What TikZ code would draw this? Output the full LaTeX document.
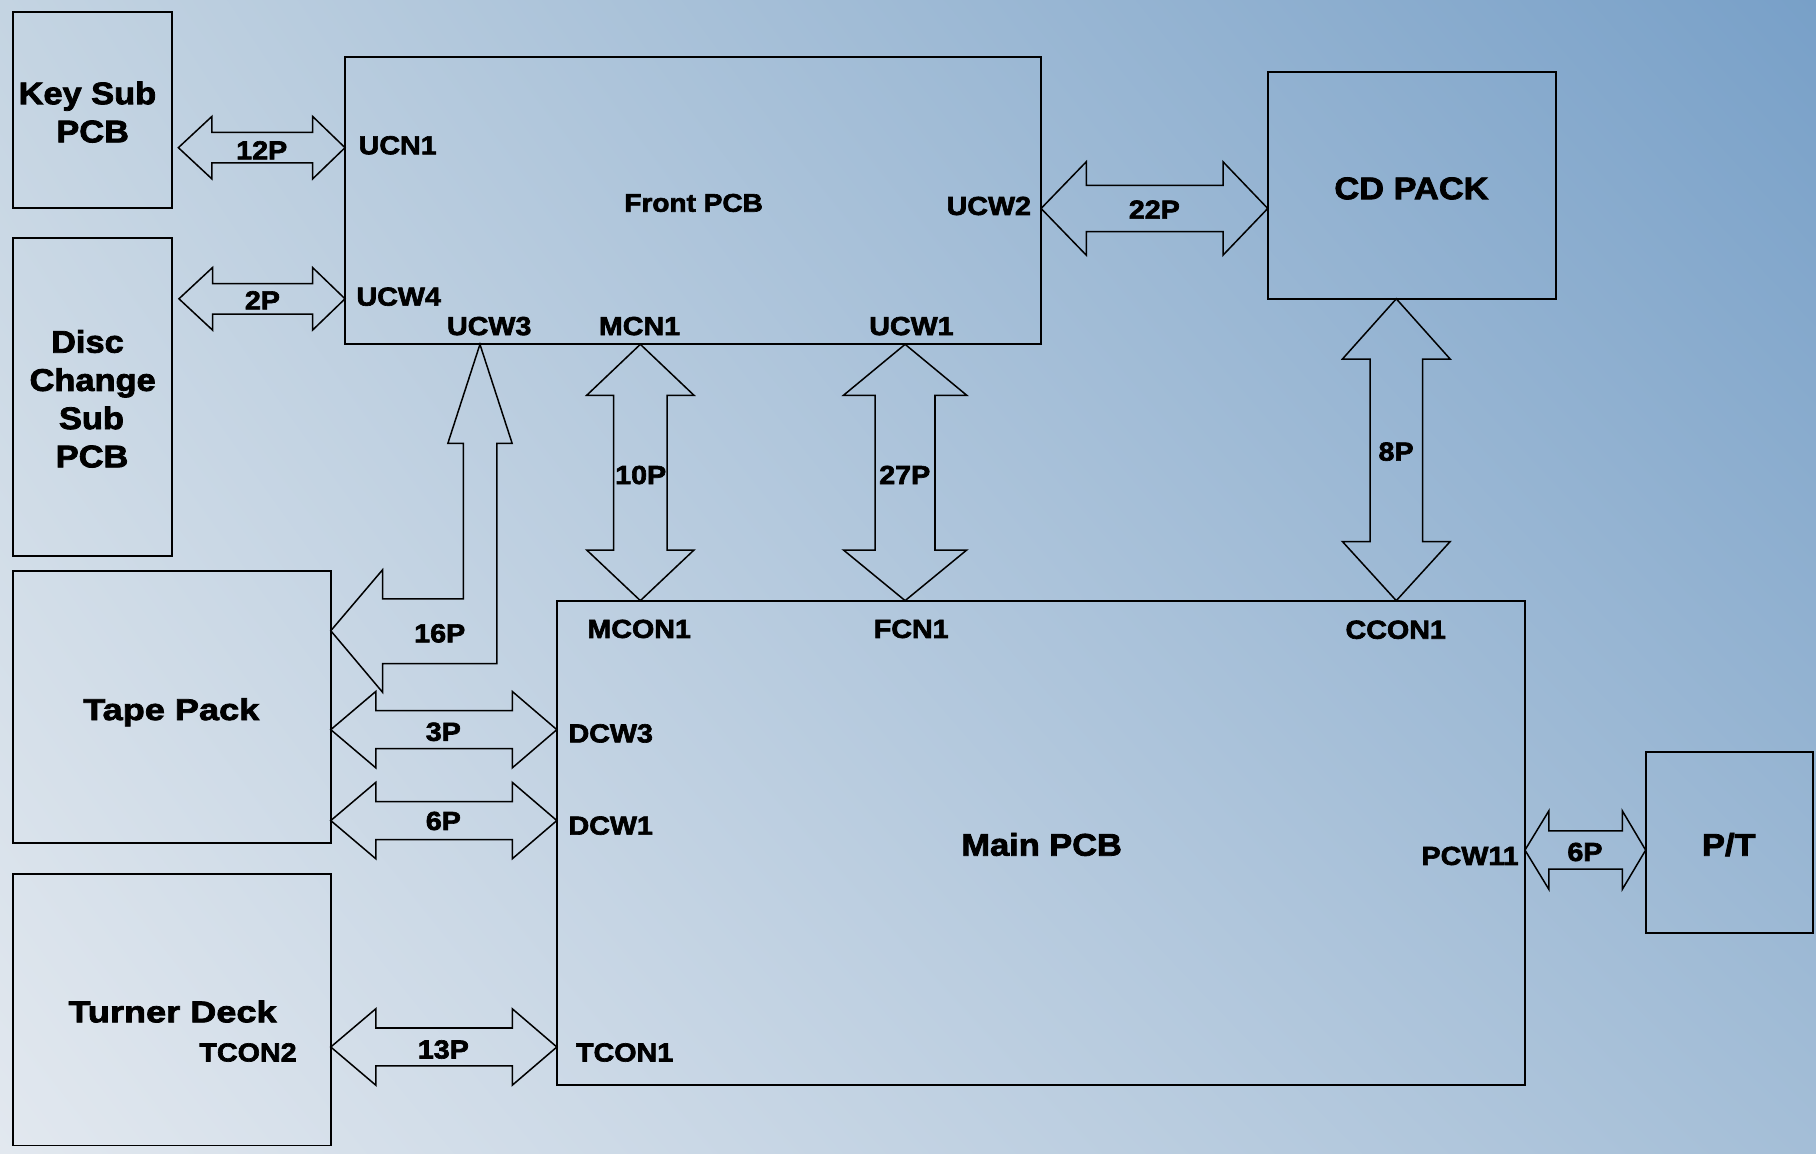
\documentclass[tikz,border=0pt]{standalone}
\usepackage{fontspec}
\setmainfont{Liberation Sans}[FakeStretch=1.1,FakeBold=2.5]
\newfontfamily\widefont{Liberation Sans}[FakeStretch=1.2,FakeBold=2.5]
\usetikzlibrary{calc,shadings}
\definecolor{bgTL}{RGB}{196,212,226}
\definecolor{bgTR}{RGB}{120,160,200}
\definecolor{bgBL}{RGB}{226,232,239}
\definecolor{bgBR}{RGB}{164,190,215}
% horizontal double block arrow: left tip, right tip, shaft half, head half, left head len, right head len
\newcommand\harr[6]{%
  \draw[conn] let \p1=(#1), \p2=(#2) in
  (\x1,\y1) -- (\x1+#5,\y1+#4) -- (\x1+#5,\y1+#3) -- (\x2-#6,\y1+#3) -- (\x2-#6,\y1+#4)
  -- (\x2,\y1) -- (\x2-#6,\y1-#4) -- (\x2-#6,\y1-#3) -- (\x1+#5,\y1-#3) -- (\x1+#5,\y1-#4) -- cycle;}
% vertical double block arrow: top tip, bottom tip, shaft half, head half, top head len, bottom head len
\newcommand\varr[6]{%
  \draw[conn] let \p1=(#1), \p2=(#2) in
  (\x1,\y1) -- (\x1+#4,\y1-#5) -- (\x1+#3,\y1-#5) -- (\x1+#3,\y2+#6) -- (\x1+#4,\y2+#6)
  -- (\x1,\y2) -- (\x1-#4,\y2+#6) -- (\x1-#3,\y2+#6) -- (\x1-#3,\y1-#5) -- (\x1-#4,\y1-#5) -- cycle;}
\begin{document}
\begin{tikzpicture}[x=1pt,y=-1pt,
  pcb/.style={draw, line width=1.6pt, inner sep=0pt, outer sep=0pt},
  conn/.style={line width=1.3pt, line join=miter},
  lbl/.style={inner sep=0pt, font=\fontsize{22.5}{27}\selectfont\bfseries, anchor=base},
  big/.style={inner sep=0pt, font=\fontsize{27}{33}\selectfont\bfseries, anchor=base},
  wide/.style={inner sep=0pt, font=\fontsize{26}{32}\selectfont\widefont\bfseries, anchor=base}]
\useasboundingbox (0,0) rectangle (1568,996);
\shade[upper left=bgTL, upper right=bgTR, lower left=bgBL, lower right=bgBR] (0,0) rectangle (1568,996);

% boxes
\node[pcb, minimum width=137.6pt, minimum height=169.8pt] (keysub) at (80,95) {};
\node[pcb, minimum width=137.6pt, minimum height=274.2pt] (disc) at (80,342.9) {};
\node[pcb, minimum width=601pt, minimum height=248.4pt] (front) at (598.4,173.1) {};
\node[pcb, minimum width=248.6pt, minimum height=196pt] (cd) at (1218.9,160) {};
\node[pcb, minimum width=835.9pt, minimum height=417.9pt] (main) at (898.75,727.55) {};
\node[pcb, minimum width=274.4pt, minimum height=234.7pt] (tape) at (148.4,610.55) {};
\node[pcb, minimum width=274.4pt, minimum height=234.5pt] (turner) at (148.4,871.75) {};
\node[pcb, minimum width=144.2pt, minimum height=156.2pt] (pt) at (1493,727.7) {};

% box texts
\node[big] (tkey1) at (75.5,90) {Key Sub};
\node[big] (tkey2) at (80,122.9) {PCB};
\node[big] (tdisc1) at (75.5,304.5) {Disc};
\node[big] (tdisc2) at (80,337.5) {Change};
\node[big] (tdisc3) at (79,370.5) {Sub};
\node[big] (tdisc4) at (79.5,403.5) {PCB};
\node[lbl, font=\fontsize{22}{26}\selectfont\bfseries] (tfront) at (598.9,182.8) {Front PCB};
\node[big] (tcd) at (1218.7,172) {CD PACK};
\node[big] (tmain) at (899.4,738.8) {Main PCB};
\node[wide] (ttape) at (147.9,621.7) {Tape Pack};
\node[wide] (tturner) at (149,882.7) {Turner Deck};
\node[big] (tpt) at (1492.7,738.8) {P/T};

% connector labels on boards
\node[lbl, anchor=base west] (ucn1) at (309.5,133.2) {UCN1};
\node[lbl, anchor=base east] (ucw2) at (890.4,185.6) {UCW2};
\node[lbl, anchor=base west] (ucw4) at (307.6,263.9) {UCW4};
\node[lbl] (ucw3) at (422.4,289.3) {UCW3};
\node[lbl] (mcn1) at (552.2,289.3) {MCN1};
\node[lbl] (ucw1) at (787,289.3) {UCW1};
\node[lbl] (mcon1) at (551.9,550.8) {MCON1};
\node[lbl] (fcn1) at (786.8,550.8) {FCN1};
\node[lbl] (ccon1) at (1205.1,551.5) {CCON1};
\node[lbl, anchor=base west] (dcw3) at (490.7,641) {DCW3};
\node[lbl, anchor=base west] (dcw1) at (490.7,720.6) {DCW1};
\node[lbl, anchor=base west] (tcon1) at (497.2,916.5) {TCON1};
\node[lbl, anchor=base east] (tcon2) at (256.3,916.5) {TCON2};
\node[lbl, anchor=base east] (pcw11) at (1311.5,746.8) {PCW11};

% connector end points
\path (keysub.east |- 0,127.5) ++(5.2,0) coordinate (a12l);
\path (front.west |- 0,127.5) coordinate (a12r);
\path (keysub.east |- 0,258) ++(5.7,0) coordinate (a2l);
\path (front.west |- 0,258) coordinate (a2r);
\path (front.east |- 0,180) coordinate (a22l);
\path (cd.west |- 0,180) coordinate (a22r);
\path (front.south -| 552.9,0) coordinate (a10t);
\path (main.north -| 552.9,0) coordinate (a10b);
\path (front.south -| 781.5,0) coordinate (a27t);
\path (main.north -| 781.5,0) coordinate (a27b);
\path (cd.south -| 1205.6,0) coordinate (a8t);
\path (main.north -| 1205.6,0) coordinate (a8b);
\path (tape.east |- 0,630) coordinate (a3l);
\path (main.west |- 0,630) coordinate (a3r);
\path (tape.east |- 0,708.5) coordinate (a6l);
\path (main.west |- 0,708.5) coordinate (a6r);
\path (turner.east |- 0,904) coordinate (a13l);
\path (main.west |- 0,904) coordinate (a13r);
\path (main.east |- 0,734) coordinate (a6pl);
\path (pt.west |- 0,734) coordinate (a6pr);
\path (front.south -| 414.4,0) coordinate (a16t);
\path (tape.east |- 0,544.6) coordinate (a16l);

% connectors
\harr{a12l}{a12r}{13.2pt}{27pt}{29pt}{28pt}
\harr{a2l}{a2r}{13.2pt}{27pt}{29pt}{28pt}
\harr{a22l}{a22r}{20pt}{40.3pt}{39pt}{38.6pt}
\varr{a10t}{a10b}{23.1pt}{46.3pt}{44pt}{43.7pt}
\varr{a27t}{a27b}{25.8pt}{53.2pt}{44pt}{43.7pt}
\varr{a8t}{a8b}{22.7pt}{46.5pt}{52pt}{51pt}
\harr{a3l}{a3r}{16.4pt}{33pt}{38.9pt}{38.5pt}
\harr{a6l}{a6r}{16.4pt}{33pt}{38.9pt}{38.5pt}
\harr{a13l}{a13r}{16.4pt}{33pt}{38.9pt}{38.5pt}
\harr{a6pl}{a6pr}{16.5pt}{34pt}{20.7pt}{20.2pt}
\draw[conn] (a16t) -- (442.2,382.8) -- (429,382.8) -- (429,573) -- (330.3,573) -- (330.3,597.7)
  -- (a16l) -- (330.3,492) -- (330.3,517) -- (400,517) -- (400,382.8) -- (386.7,382.8) -- cycle;

% connector labels
\node[lbl] (l12) at (226,137.6) {12P};
\node[lbl] (l2) at (226.6,267.1) {2P};
\node[lbl] (l22) at (996.7,188.8) {22P};
\node[lbl] (l10) at (553.2,417.9) {10P};
\node[lbl] (l27) at (781.2,417.9) {27P};
\node[lbl] (l8) at (1205.4,397.7) {8P};
\node[lbl] (l16) at (379.7,554.6) {16P};
\node[lbl] (l3) at (382.8,639.6) {3P};
\node[lbl] (l6) at (382.8,716.6) {6P};
\node[lbl] (l13) at (382.8,913.9) {13P};
\node[lbl] (l6p) at (1368.5,743.4) {6P};
\end{tikzpicture}
\end{document}
